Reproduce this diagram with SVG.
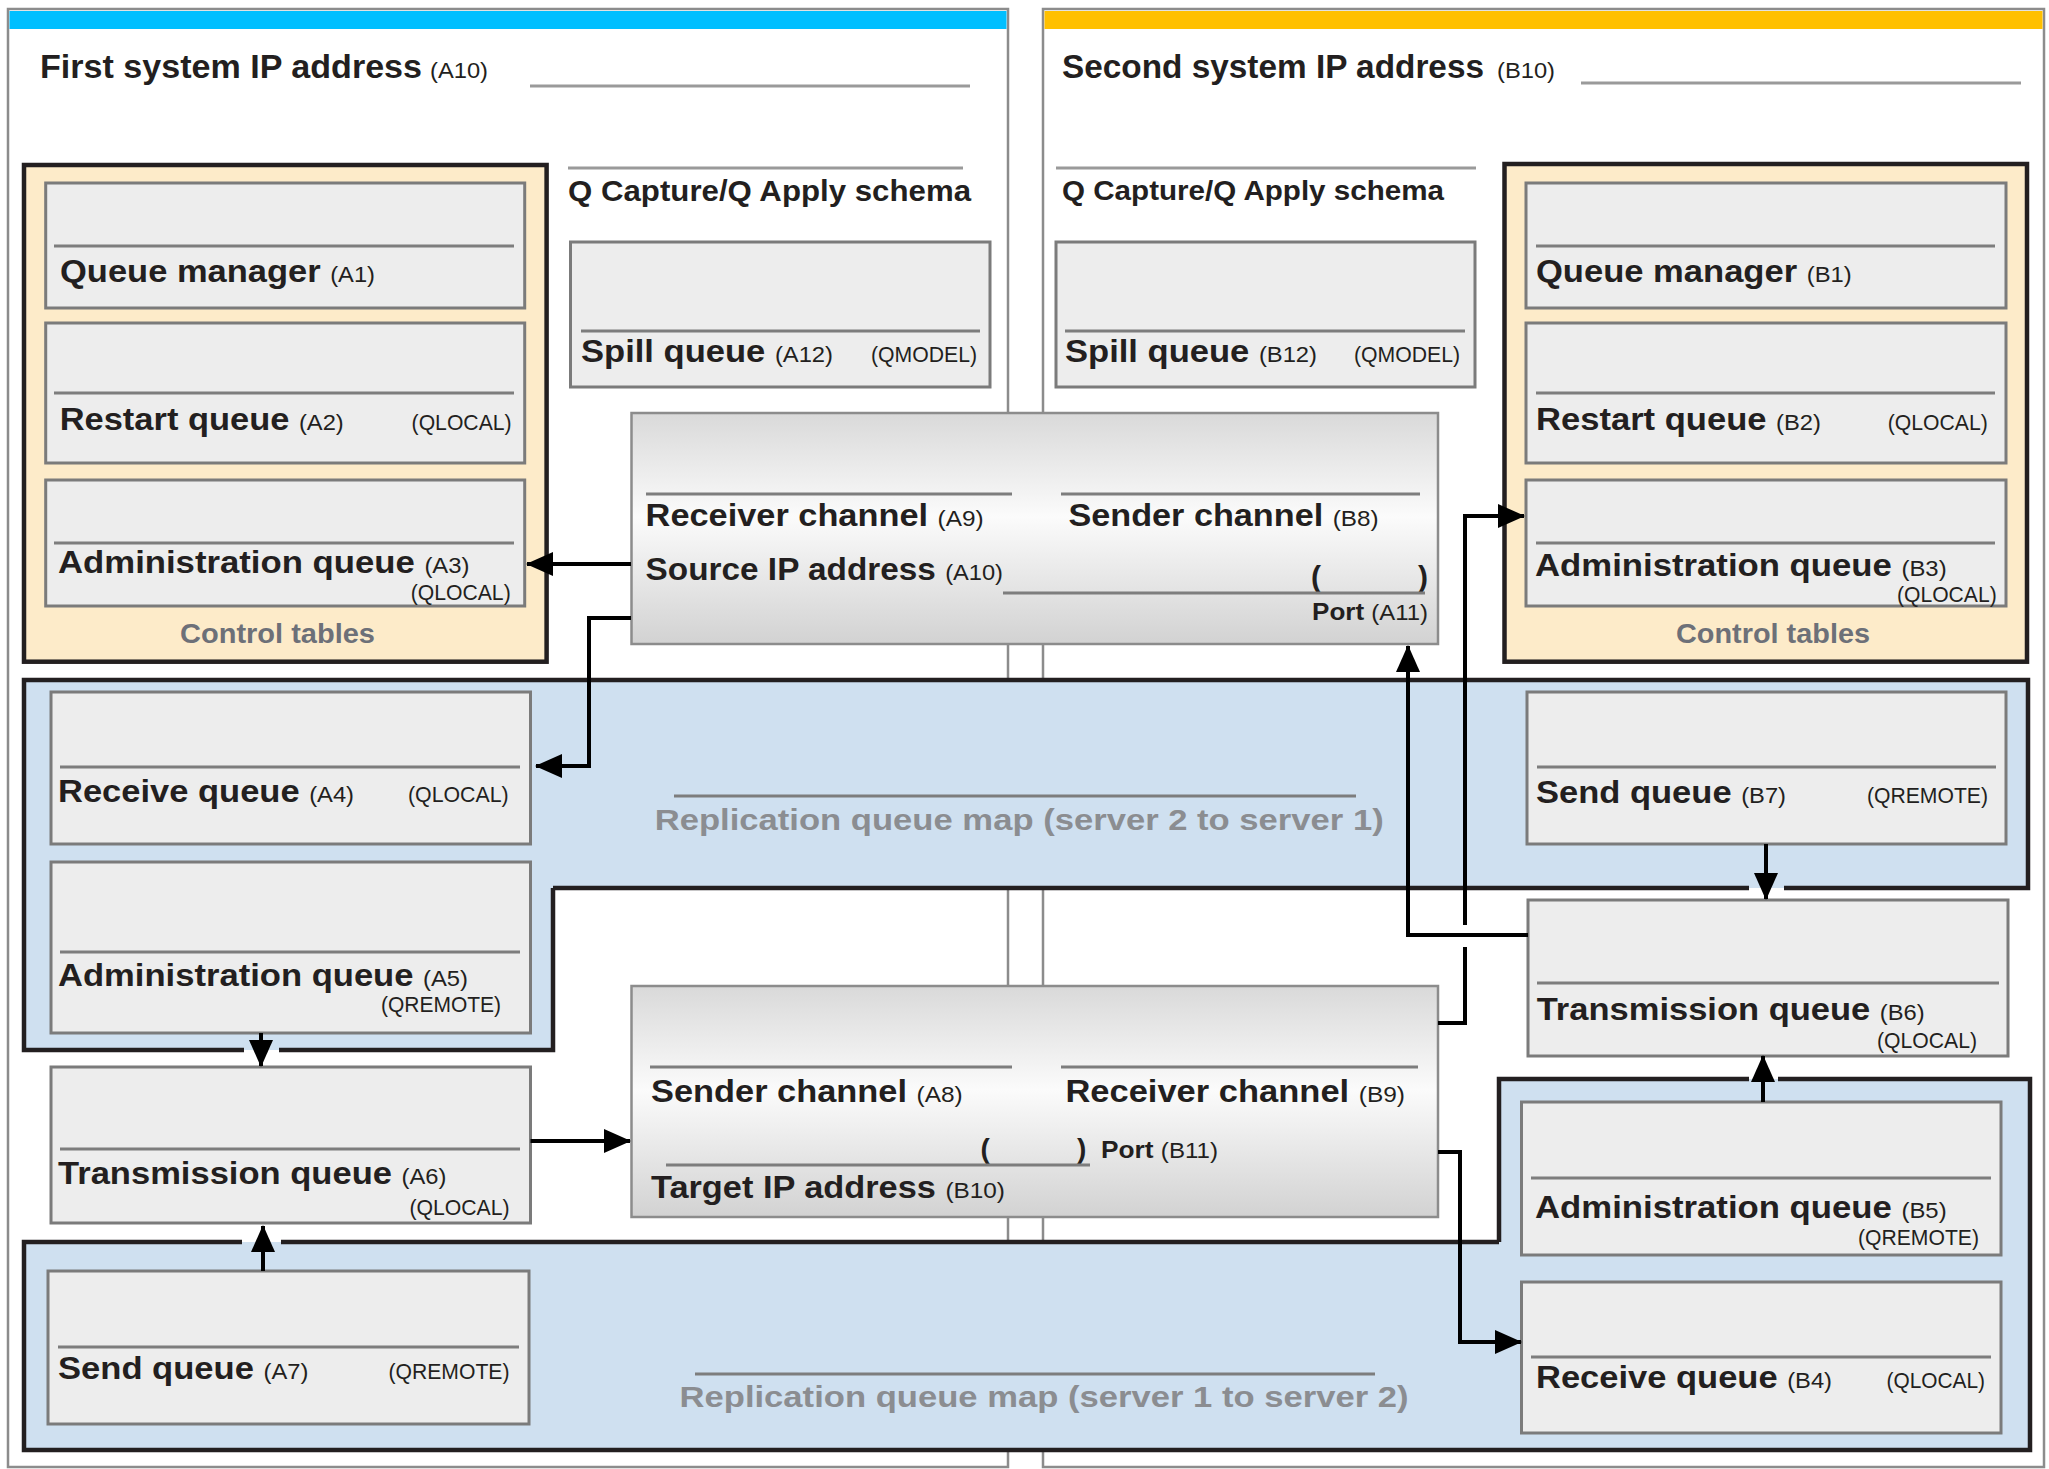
<svg xmlns="http://www.w3.org/2000/svg" width="2049" height="1469" viewBox="0 0 2049 1469">
<defs>
<linearGradient id="chg" x1="0" y1="0" x2="0" y2="1">
<stop offset="0" stop-color="#d9d9d9"/>
<stop offset="0.45" stop-color="#fbfbfb"/>
<stop offset="1" stop-color="#d2d2d2"/>
</linearGradient>
<marker id="ah" markerUnits="userSpaceOnUse" markerWidth="27" markerHeight="24" refX="26" refY="12" orient="auto">
<path d="M0,0 L27,12 L0,24 z" fill="#000"/>
</marker>
</defs>
<style>
.panel{fill:#fff;stroke:#8c8c8c;stroke-width:2.5}
.ctl{fill:#fdebc9;stroke:#231f20;stroke-width:4.5}
.q{fill:#ededed;stroke:#7b7b7b;stroke-width:3}
.sep{stroke:#7d7d7d;stroke-width:3}
.tl{stroke:#9a9a9a;stroke-width:3}
.chan{fill:url(#chg);stroke:#8c8c8c;stroke-width:2.5}
.map{fill:#cfe0f0}
.mapb{fill:none;stroke:#231f20;stroke-width:4.5}
.con{fill:none;stroke:#000;stroke-width:4}
text{font-family:"Liberation Sans",Arial,Helvetica,sans-serif;fill:#231f20}
.b{font-weight:bold;font-size:32px}
.t{font-weight:bold;font-size:34px}
.c{font-weight:bold;font-size:31px}
.p{font-weight:normal;font-size:22px}
.r{font-weight:normal;font-size:22px}
.g{font-weight:bold;fill:#8b8d91;font-size:30px}
.ct{font-weight:bold;fill:#6d7078;font-size:27px}
</style>

<g id="panel-first">
<rect class="panel" x="8" y="9" width="1000" height="1458"/>
<rect x="9.5" y="11" width="997" height="18" fill="#00bfff"/>
</g>
<g id="panel-second">
<rect class="panel" x="1043" y="9" width="1001" height="1458"/>
<rect x="1044.5" y="11" width="998" height="18" fill="#ffc000"/>
</g>

<g id="title-first">
<text class="t" x="40" y="78" textLength="382" lengthAdjust="spacingAndGlyphs">First system IP address</text>
<text class="p" x="430" y="78" textLength="58" lengthAdjust="spacingAndGlyphs">(A10)</text>
<line class="tl" x1="530" y1="86" x2="970" y2="86"/>
</g>
<g id="title-second">
<text class="t" x="1062" y="78" font-size="32" textLength="422" lengthAdjust="spacingAndGlyphs">Second system IP address</text>
<text class="p" x="1497" y="78" textLength="58" lengthAdjust="spacingAndGlyphs">(B10)</text>
<line class="tl" x1="1581" y1="83" x2="2021" y2="83"/>
</g>

<g id="schema-first">
<line class="tl" x1="568" y1="168" x2="963" y2="168"/>
<text x="568" y="201" font-weight="bold" font-size="30" textLength="403" lengthAdjust="spacingAndGlyphs">Q Capture/Q Apply schema</text>
</g>
<g id="schema-second">
<line class="tl" x1="1056" y1="168" x2="1476" y2="168"/>
<text x="1062" y="200" font-weight="bold" font-size="28.5" textLength="382" lengthAdjust="spacingAndGlyphs">Q Capture/Q Apply schema</text>
</g>

<g id="control-tables-first">
<rect class="ctl" x="24" y="165" width="522.6" height="496.7"/>
<text class="ct" x="180" y="643" textLength="195" lengthAdjust="spacingAndGlyphs">Control tables</text>
</g>
<g id="control-tables-second">
<rect class="ctl" x="1504.5" y="164" width="522.5" height="497.7"/>
<text class="ct" x="1676" y="643" textLength="194" lengthAdjust="spacingAndGlyphs">Control tables</text>
</g>

<g id="map-2-to-1">
<polygon class="map" points="24,680 2028,680 2028,888 553,888 553,1050 24,1050"/>
<path class="mapb" d="M553,888 H1749 M1784,888 H2028 V680 H24 V1050 H244 M279,1050 H553 V888"/>
<line class="sep" x1="674" y1="796" x2="1356" y2="796"/>
<text class="g" x="654.7" y="830" textLength="729" lengthAdjust="spacingAndGlyphs">Replication queue map (server 2 to server 1)</text>
</g>
<g id="map-1-to-2">
<polygon class="map" points="1499,1079 2030,1079 2030,1450 24,1450 24,1242 1499,1242"/>
<path class="mapb" d="M1499,1242 V1079 H1749 M1778,1079 H2030 V1450 H24 V1242 H242 M281,1242 H1499"/>
<line class="sep" x1="695" y1="1374" x2="1375" y2="1374"/>
<text class="g" x="679.5" y="1407" textLength="729" lengthAdjust="spacingAndGlyphs">Replication queue map (server 1 to server 2)</text>
</g>

<g id="A12">
<rect class="q" x="570.5" y="242" width="419.5" height="145"/>
<line class="sep" x1="581" y1="331" x2="980" y2="331"/>
<text class="b" x="581" y="362" textLength="252" lengthAdjust="spacingAndGlyphs">Spill queue <tspan class="p">(A12)</tspan></text>
<text class="r" x="871" y="362" textLength="106" lengthAdjust="spacingAndGlyphs">(QMODEL)</text>
</g>
<g id="B12">
<rect class="q" x="1056" y="242" width="419" height="145"/>
<line class="sep" x1="1065" y1="331" x2="1465" y2="331"/>
<text class="b" x="1065" y="362" textLength="252" lengthAdjust="spacingAndGlyphs">Spill queue <tspan class="p">(B12)</tspan></text>
<text class="r" x="1354" y="362" textLength="106" lengthAdjust="spacingAndGlyphs">(QMODEL)</text>
</g>

<g id="A1">
<rect class="q" x="45.7" y="183" width="479" height="125"/>
<line class="sep" x1="54" y1="246" x2="514" y2="246"/>
<text class="b" x="60" y="282" textLength="315" lengthAdjust="spacingAndGlyphs">Queue manager <tspan class="p">(A1)</tspan></text>
</g>
<g id="A2">
<rect class="q" x="45.7" y="323" width="479" height="140"/>
<line class="sep" x1="54" y1="393" x2="514" y2="393"/>
<text class="b" x="59.7" y="430" textLength="284" lengthAdjust="spacingAndGlyphs">Restart queue <tspan class="p">(A2)</tspan></text>
<text class="r" x="411.6" y="430" textLength="100" lengthAdjust="spacingAndGlyphs">(QLOCAL)</text>
</g>
<g id="A3">
<rect class="q" x="45.7" y="480" width="479" height="126"/>
<line class="sep" x1="54" y1="543" x2="514" y2="543"/>
<text class="b" x="58" y="573" textLength="411.5" lengthAdjust="spacingAndGlyphs">Administration queue <tspan class="p">(A3)</tspan></text>
<text class="r" x="410.7" y="600" textLength="100" lengthAdjust="spacingAndGlyphs">(QLOCAL)</text>
</g>

<g id="B1">
<rect class="q" x="1526" y="183" width="480" height="125"/>
<line class="sep" x1="1536" y1="246" x2="1995" y2="246"/>
<text class="b" x="1536" y="282" textLength="315.6" lengthAdjust="spacingAndGlyphs">Queue manager <tspan class="p">(B1)</tspan></text>
</g>
<g id="B2">
<rect class="q" x="1526" y="323" width="480" height="140"/>
<line class="sep" x1="1536" y1="393" x2="1995" y2="393"/>
<text class="b" x="1536" y="430" textLength="285" lengthAdjust="spacingAndGlyphs">Restart queue <tspan class="p">(B2)</tspan></text>
<text class="r" x="1887.8" y="430" textLength="100" lengthAdjust="spacingAndGlyphs">(QLOCAL)</text>
</g>
<g id="B3">
<rect class="q" x="1526" y="480" width="480" height="126"/>
<line class="sep" x1="1536" y1="543" x2="1995" y2="543"/>
<text class="b" x="1535" y="576" textLength="411.6" lengthAdjust="spacingAndGlyphs">Administration queue <tspan class="p">(B3)</tspan></text>
<text class="r" x="1897" y="601.7" textLength="99.7" lengthAdjust="spacingAndGlyphs">(QLOCAL)</text>
</g>

<g id="A4">
<rect class="q" x="51" y="692" width="479.5" height="152"/>
<line class="sep" x1="60" y1="767" x2="520" y2="767"/>
<text class="b" x="58" y="802" textLength="296" lengthAdjust="spacingAndGlyphs">Receive queue <tspan class="p">(A4)</tspan></text>
<text class="r" x="408" y="802" textLength="100.7" lengthAdjust="spacingAndGlyphs">(QLOCAL)</text>
</g>
<g id="A5">
<rect class="q" x="51" y="862" width="479.5" height="171"/>
<line class="sep" x1="60" y1="952" x2="520" y2="952"/>
<text class="b" x="58" y="986" textLength="410" lengthAdjust="spacingAndGlyphs">Administration queue <tspan class="p">(A5)</tspan></text>
<text class="r" x="381" y="1012" textLength="120" lengthAdjust="spacingAndGlyphs">(QREMOTE)</text>
</g>
<g id="A6">
<rect class="q" x="51" y="1067" width="479.5" height="156"/>
<line class="sep" x1="60" y1="1149" x2="520" y2="1149"/>
<text class="b" x="58" y="1184" textLength="388.4" lengthAdjust="spacingAndGlyphs">Transmission queue <tspan class="p">(A6)</tspan></text>
<text class="r" x="409.4" y="1215" textLength="100.2" lengthAdjust="spacingAndGlyphs">(QLOCAL)</text>
</g>
<g id="A7">
<rect class="q" x="48" y="1271" width="481" height="153"/>
<line class="sep" x1="58" y1="1347" x2="519" y2="1347"/>
<text class="b" x="58" y="1379" textLength="250.4" lengthAdjust="spacingAndGlyphs">Send queue <tspan class="p">(A7)</tspan></text>
<text class="r" x="388.5" y="1379" textLength="121" lengthAdjust="spacingAndGlyphs">(QREMOTE)</text>
</g>

<g id="B7">
<rect class="q" x="1527" y="692" width="479" height="152"/>
<line class="sep" x1="1537" y1="767" x2="1996" y2="767"/>
<text class="b" x="1536" y="803" textLength="250" lengthAdjust="spacingAndGlyphs">Send queue <tspan class="p">(B7)</tspan></text>
<text class="r" x="1867" y="803" textLength="121" lengthAdjust="spacingAndGlyphs">(QREMOTE)</text>
</g>
<g id="B6">
<rect class="q" x="1528" y="900" width="480" height="156"/>
<line class="sep" x1="1537" y1="983" x2="1999" y2="983"/>
<text class="b" x="1536.7" y="1020" textLength="388" lengthAdjust="spacingAndGlyphs">Transmission queue <tspan class="p">(B6)</tspan></text>
<text class="r" x="1877" y="1048" textLength="100" lengthAdjust="spacingAndGlyphs">(QLOCAL)</text>
</g>
<g id="B5">
<rect class="q" x="1521.5" y="1102" width="479.5" height="153"/>
<line class="sep" x1="1531" y1="1178" x2="1991" y2="1178"/>
<text class="b" x="1535" y="1218" textLength="411.6" lengthAdjust="spacingAndGlyphs">Administration queue <tspan class="p">(B5)</tspan></text>
<text class="r" x="1858" y="1245" textLength="121" lengthAdjust="spacingAndGlyphs">(QREMOTE)</text>
</g>
<g id="B4">
<rect class="q" x="1521.5" y="1282" width="479.5" height="151"/>
<line class="sep" x1="1531" y1="1357" x2="1991" y2="1357"/>
<text class="b" x="1536" y="1388" textLength="296" lengthAdjust="spacingAndGlyphs">Receive queue <tspan class="p">(B4)</tspan></text>
<text class="r" x="1886.5" y="1388" textLength="98.5" lengthAdjust="spacingAndGlyphs">(QLOCAL)</text>
</g>

<g id="channels-A9-B8">
<rect class="chan" x="631.5" y="413" width="806.5" height="231"/>
<line class="sep" x1="646" y1="494" x2="1012" y2="494"/>
<line class="sep" x1="1061" y1="494" x2="1420" y2="494"/>
<text class="c" x="645.6" y="526" textLength="338" lengthAdjust="spacingAndGlyphs">Receiver channel <tspan class="p" font-size="21">(A9)</tspan></text>
<text class="c" x="1068.5" y="526" textLength="310" lengthAdjust="spacingAndGlyphs">Sender channel <tspan class="p" font-size="21">(B8)</tspan></text>
<text class="c" x="645.6" y="580" textLength="357.4" lengthAdjust="spacingAndGlyphs">Source IP address <tspan class="p" font-size="21">(A10)</tspan></text>
<text x="1311" y="587" font-weight="bold" font-size="30">(</text>
<text x="1418" y="587" font-weight="bold" font-size="30">)</text>
<line class="sep" x1="1003" y1="593" x2="1425" y2="593"/>
<text x="1312" y="620" font-weight="bold" font-size="24" textLength="116" lengthAdjust="spacingAndGlyphs">Port <tspan class="p" font-size="21">(A11)</tspan></text>
</g>
<g id="channels-A8-B9">
<rect class="chan" x="631.5" y="986" width="806.5" height="231"/>
<line class="sep" x1="650" y1="1067" x2="1012" y2="1067"/>
<line class="sep" x1="1061" y1="1067" x2="1418" y2="1067"/>
<text class="c" x="651" y="1102" textLength="311.6" lengthAdjust="spacingAndGlyphs">Sender channel <tspan class="p" font-size="21">(A8)</tspan></text>
<text class="c" x="1065.4" y="1102" textLength="339.6" lengthAdjust="spacingAndGlyphs">Receiver channel <tspan class="p" font-size="21">(B9)</tspan></text>
<text x="980.5" y="1158" font-weight="bold" font-size="28">(</text>
<text x="1077" y="1158" font-weight="bold" font-size="28">)</text>
<line class="sep" x1="666" y1="1165" x2="1090" y2="1165"/>
<text x="1101" y="1158" font-weight="bold" font-size="24" textLength="117" lengthAdjust="spacingAndGlyphs">Port <tspan class="p" font-size="21">(B11)</tspan></text>
<text class="c" x="651" y="1198" textLength="354" lengthAdjust="spacingAndGlyphs">Target IP address <tspan class="p" font-size="21">(B10)</tspan></text>
</g>

<g id="connectors">
<path class="con" d="M631,564 H527" marker-end="url(#ah)"/>
<path class="con" d="M631,618 H589 V766 H536" marker-end="url(#ah)"/>
<path class="con" d="M261,1033 V1066" marker-end="url(#ah)"/>
<path class="con" d="M263,1271 V1226" marker-end="url(#ah)"/>
<path class="con" d="M530.5,1141 H630" marker-end="url(#ah)"/>
<path class="con" d="M1438,1023 H1465 V947"/>
<path class="con" d="M1465,925 V516 H1524" marker-end="url(#ah)"/>
<path class="con" d="M1528,935 H1408 V646" marker-end="url(#ah)"/>
<path class="con" d="M1766,844 V899" marker-end="url(#ah)"/>
<path class="con" d="M1763,1102 V1056" marker-end="url(#ah)"/>
<path class="con" d="M1438,1152 H1460 V1342 H1521" marker-end="url(#ah)"/>
</g>
</svg>
